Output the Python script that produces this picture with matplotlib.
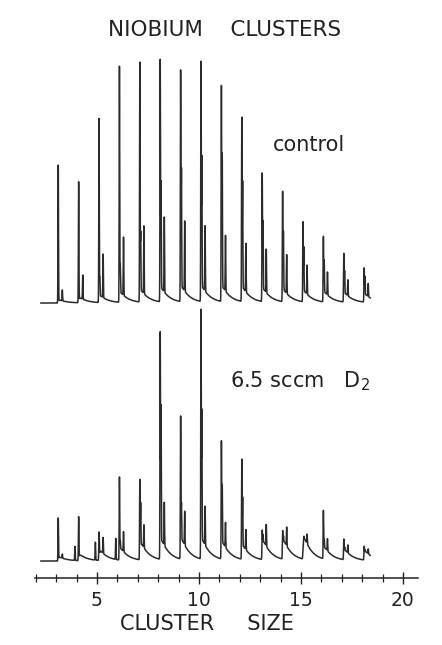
import numpy as np
import matplotlib.pyplot as plt
from matplotlib.ticker import FixedLocator

# cluster sizes and peak intensities (relative, control Nb8 = 100)
sizes = np.arange(3, 19)

control_main = [57, 50, 76, 97.5, 99, 100, 95.5, 99, 89, 76, 53, 45.5, 33, 27, 20, 14]
control_near = [0, 0, 8, 12, 25, 45, 50, 55, 56, 45, 29, 25, 19, 14, 10, 8]
control_sat = [4.5, 10, 18, 24, 28, 31, 29, 27, 23, 20, 18, 16, 12, 9.5, 6.6, 5.4]
control_pre = [0] * 16
control_tail = [1.5, 2.5, 3.5, 5, 6, 7, 7.5, 7.5, 7.5, 7, 6.5, 6, 5.5, 5, 4.5, 4]

d2_main = [17.8, 18.2, 11.6, 34.3, 33, 93.8, 59, 102.9, 48.7, 41.3, 11.6, 11.2, 4, 19.8, 8.3, 5.4]
d2_near = [0, 0, 0, 4, 18, 57, 16.5, 55, 25, 21, 4, 3.3, 2, 4, 2, 1.2]
d2_sat = [1.7, 0, 6.6, 8.3, 9.5, 17.8, 14, 16.1, 10.3, 8.3, 9, 7.8, 4, 5, 3.3, 2]
d2_pre = [0, 5.8, 7.4, 8.7, 0, 0, 0, 0, 0, 0, 0, 0, 0, 0, 0, 0]
d2_tail = [2, 3, 5, 6, 8.5, 10, 10, 10, 8.5, 7, 9.5, 9.5, 11, 6, 5, 4.5]

major_ticks = [5, 10, 15, 20]
minor_ticks = [t for t in range(2, 21) if t not in major_ticks]


def spike(d, w=0.012):
    return np.exp(-0.5 * (d / w) ** 2)


def spectrum(x, main, near, sat, pre, tail):
    y = np.zeros_like(x)
    for i, n in enumerate(sizes):
        p = n + 0.1
        y += main[i] * spike(x - p)
        y += near[i] * spike(x - p - 0.04)
        y += sat[i] * spike(x - p - 0.2)
        y += pre[i] * spike(x - p + 0.18)
        d = x - p
        y += np.where(d > 0, tail[i] * (1 - np.exp(-d / 0.03)) * np.exp(-d / 0.4), 0)
    return y


x = np.arange(2.25, 18.4, 0.002)
top = spectrum(x, control_main, control_near, control_sat, control_pre, control_tail)
bot = spectrum(x, d2_main, d2_near, d2_sat, d2_pre, d2_tail)

fig = plt.figure(figsize=(4.42, 6.45), dpi=100)
ax = fig.add_axes([35 / 442, 67 / 645, 383 / 442, 578 / 645])

top_offset = 113.6
bot_offset = 7.0
ink = '#2b2b2b'
ax.plot(x, top + top_offset, color=ink, lw=1.1)
ax.plot(x, bot + bot_offset, color=ink, lw=1.1)

ax.set_xlim(1.96, 20.74)
ax.set_ylim(0, 238.8)
for s in ['left', 'right', 'top']:
    ax.spines[s].set_visible(False)
ax.spines['bottom'].set_linewidth(1.1)
ax.spines['bottom'].set_color('#222222')
ax.set_yticks([])
ax.xaxis.set_major_locator(FixedLocator(major_ticks))
ax.xaxis.set_minor_locator(FixedLocator(minor_ticks))
ax.tick_params(axis='x', which='major', direction='inout', length=9, width=1.0,
               color='#222222', labelsize=13.5, pad=5, labelcolor='#222222')
ax.tick_params(axis='x', which='minor', direction='inout', length=6, width=0.9,
               color='#222222')
ax.patch.set_visible(False)

fig.text(225 / 442, 1 - 30 / 645, 'NIOBIUM    CLUSTERS', ha='center', va='center',
         fontsize=15.5, color='#222222')
fig.text(207 / 442, 1 - 624 / 645, 'CLUSTER     SIZE', ha='center', va='center',
         fontsize=15, color='#222222')
fig.text(273 / 442, 1 - 145 / 645, 'control', ha='left', va='center',
         fontsize=15, color='#222222')
fig.text(230 / 442, 1 - 381 / 645, '6.5 sccm   D$_2$', ha='left', va='center',
         fontsize=15, color='#222222')

fig.savefig('out.png', dpi=100)
